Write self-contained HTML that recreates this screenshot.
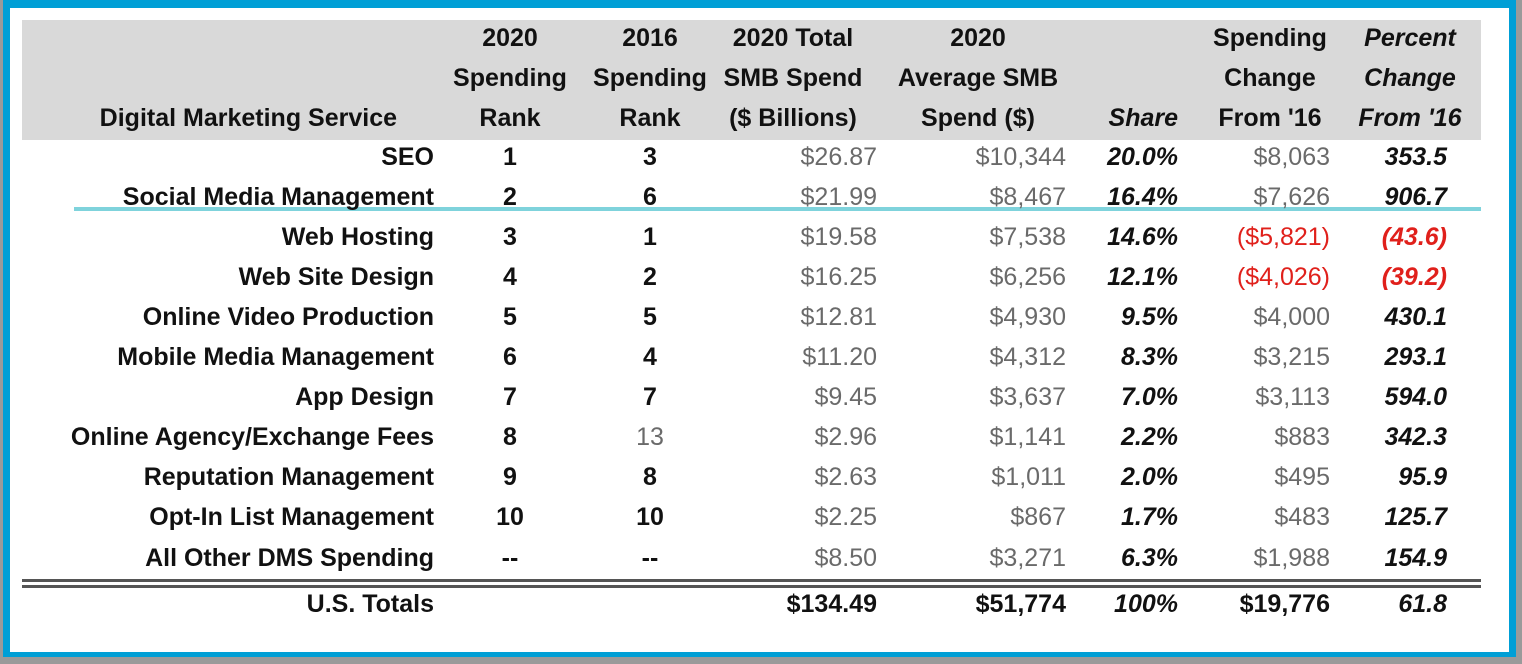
<!DOCTYPE html>
<html><head><meta charset="utf-8">
<style>
body{margin:0;width:1522px;height:664px;background:#9a9a9a;position:relative;overflow:hidden;font-family:"Liberation Sans",sans-serif}
#frame{position:absolute;left:3px;top:0;width:1513px;height:657px;background:#009fd6}
#inner{position:absolute;left:10px;top:8px;width:1499px;height:644px;background:#fff}
#hdr{position:absolute;left:22px;top:20px;width:1459px;height:120px;background:#d9d9d9}
.t{position:absolute;white-space:nowrap;font-size:25px;line-height:28px}
.b{font-weight:bold;color:#111}
.g{color:#6a6a6a}
.i{font-style:italic}
.r{color:#e0201b}
</style></head><body>
<div id="frame"></div>
<div id="inner"></div>
<div id="hdr"></div>
<div style="position:absolute;left:74px;top:207px;width:1407px;height:4px;background:#7fd3dc"></div>
<div style="position:absolute;left:22px;top:579px;width:1459px;height:3px;background:#555"></div>
<div style="position:absolute;left:22px;top:585px;width:1459px;height:3px;background:#555"></div>
<div id="tbl"></div>
<script>
const services=["SEO","Social Media Management","Web Hosting","Web Site Design","Online Video Production","Mobile Media Management","App Design","Online Agency/Exchange Fees","Reputation Management","Opt-In List Management","All Other DMS Spending","U.S. Totals"];
const rank2020=["1","2","3","4","5","6","7","8","9","10","--",""];
const rank2016=["3","6","1","2","5","4","7","13","8","10","--",""];
const totalSpend=["$26.87","$21.99","$19.58","$16.25","$12.81","$11.20","$9.45","$2.96","$2.63","$2.25","$8.50","$134.49"];
const avgSpend=["$10,344","$8,467","$7,538","$6,256","$4,930","$4,312","$3,637","$1,141","$1,011","$867","$3,271","$51,774"];
const share=["20.0%","16.4%","14.6%","12.1%","9.5%","8.3%","7.0%","2.2%","2.0%","1.7%","6.3%","100%"];
const spendChange=["$8,063","$7,626","($5,821)","($4,026)","$4,000","$3,215","$3,113","$883","$495","$483","$1,988","$19,776"];
const pctChange=["353.5","906.7","(43.6)","(39.2)","430.1","293.1","594.0","342.3","95.9","125.7","154.9","61.8"];
const rowY=[157,197,237,277,317,357,397,437,477,517,558,604];
const tbl=document.getElementById('tbl');
function put(text,x,y,align,cls,name){
  const d=document.createElement('div');
  d.className='t '+cls;
  d.textContent=text;
  
  
  d.style.top=(y-14)+'px';
  if(align==='r'){d.style.right=(1522-x)+'px';}
  else{d.style.left=(x-100)+'px';d.style.width='200px';d.style.textAlign='center';}
  tbl.appendChild(d);
}
const H=[[["2020","Spending","Rank"],510,'c',''],[["2016","Spending","Rank"],650,'c',''],[["2020 Total","SMB Spend","($ Billions)"],793,'c',''],[["2020","Average SMB","Spend ($)"],978,'c',''],[["","","Share"],1178,'r','i'],[["Spending","Change","From '16"],1270,'c',''],[["Percent","Change","From '16"],1410,'c','i']];
H.forEach((h,k)=>h[0].forEach((s,j)=>{if(s)put(s,h[1],38+j*40,h[2],'b '+h[3],'column-header');}));
put("Digital Marketing Service",397,118,'r','b','column-header');
for(let i=0;i<services.length;i++){
  const tot=i===11, neg=spendChange[i].startsWith('(');
  put(services[i],434,rowY[i],'r','b','service-label');
  put(rank2020[i],510,rowY[i],'c','b','rank-2020');
  put(rank2016[i],650,rowY[i],'c',i===7?'g':'b','rank-2016');
  put(totalSpend[i],877,rowY[i],'r',tot?'b':'g','total-spend');
  put(avgSpend[i],1066,rowY[i],'r',tot?'b':'g','avg-spend');
  put(share[i],1178,rowY[i],'r','b i','share');
  put(spendChange[i],1330,rowY[i],'r',tot?'b':(neg?'r':'g'),'spending-change');
  put(pctChange[i],1447,rowY[i],'r',neg?'b i r':'b i','percent-change');
}
</script>
</body></html>
